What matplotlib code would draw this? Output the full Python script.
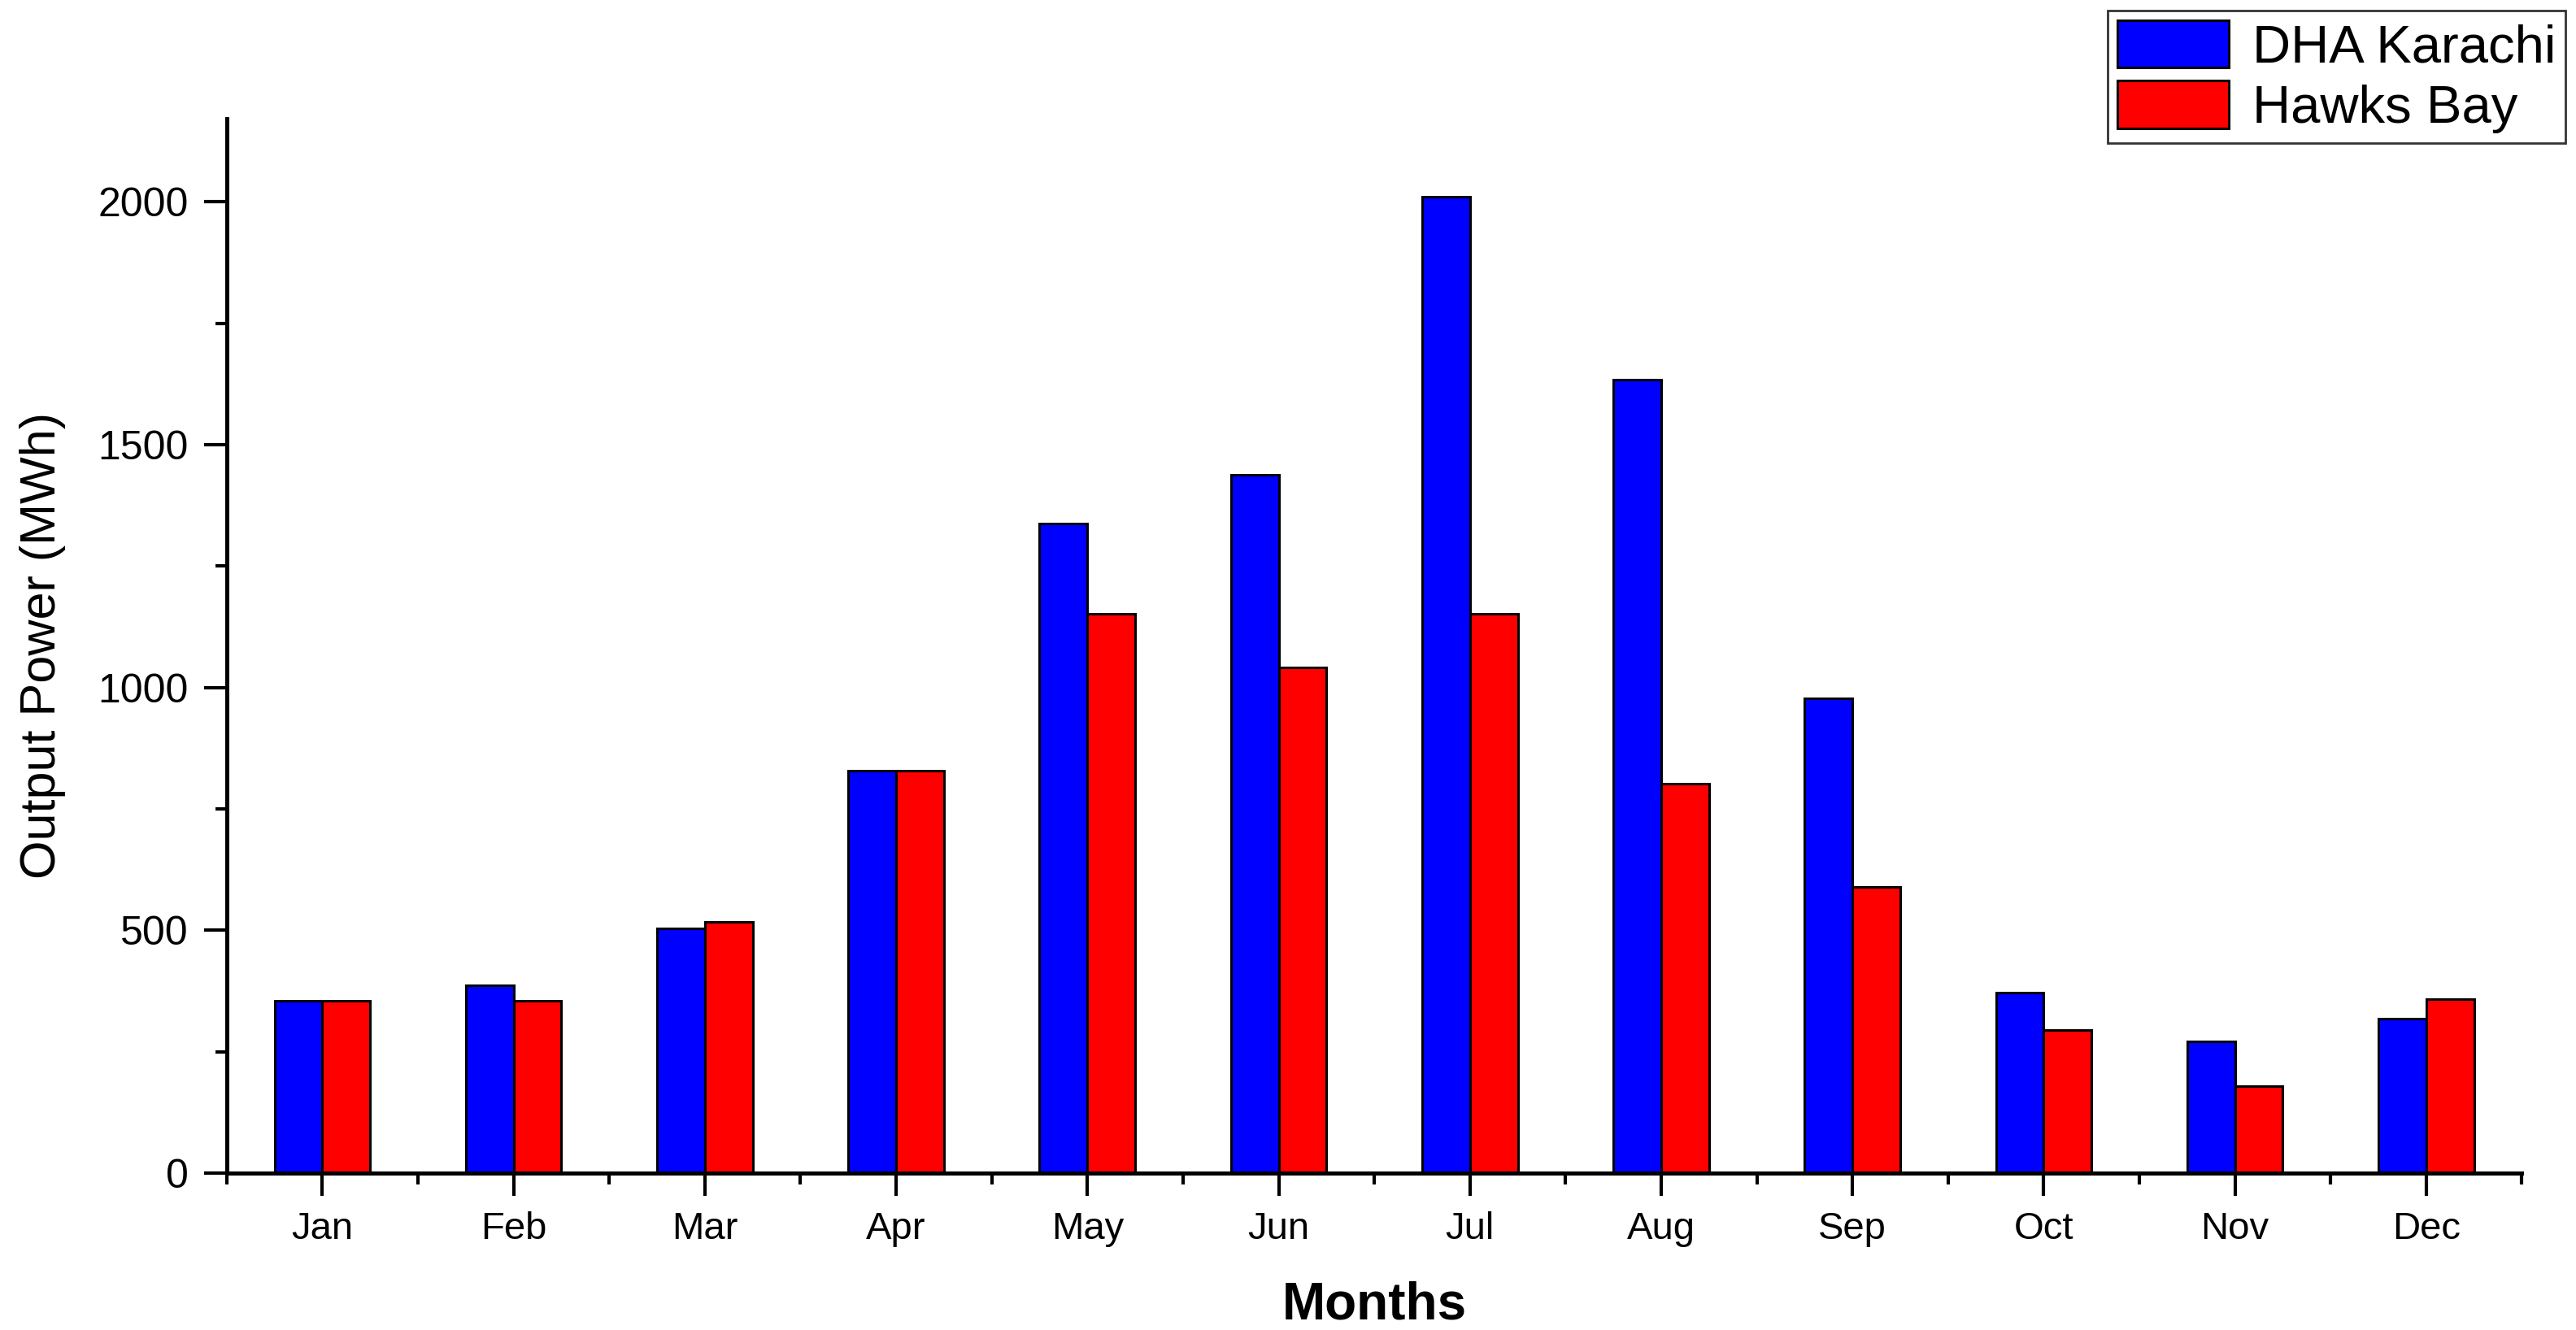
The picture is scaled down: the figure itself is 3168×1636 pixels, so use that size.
import numpy as np
import matplotlib
matplotlib.use("Agg")
import matplotlib.pyplot as plt
from matplotlib.ticker import MultipleLocator, FixedLocator

# ----------------------------
# Datos (MWh por mes)
# ----------------------------
months = ["Jan", "Feb", "Mar", "Apr", "May", "Jun",
          "Jul", "Aug", "Sep", "Oct", "Nov", "Dec"]
dha_karachi = [355, 386, 504, 829, 1337, 1438, 2010, 1634, 978, 372, 271, 318]
hawks_bay = [355, 355, 518, 829, 1151, 1042, 1151, 802, 589, 294, 179, 359]

plt.rcParams['font.family'] = ['Liberation Sans', 'DejaVu Sans']

fig = plt.figure(figsize=(15.84, 8.18), dpi=200)
ax = fig.add_axes([0.088, 0.118, 0.891, 0.793])

x = np.arange(len(months))
w = 0.25
ax.bar(x - w/2, dha_karachi, w, color='#0000ff', edgecolor='black',
       linewidth=1.1, label='DHA Karachi')
ax.bar(x + w/2, hawks_bay, w, color='#ff0000', edgecolor='black',
       linewidth=1.1, label='Hawks Bay')

ax.set_xlim(-0.5, 11.5)
ax.set_ylim(0, 2172)

# ejes estilo Origin
for s in ['top', 'right']:
    ax.spines[s].set_visible(False)
for s in ['left', 'bottom']:
    ax.spines[s].set_linewidth(1.8)

ax.set_xticks(x)
ax.set_xticklabels(months)
ax.xaxis.set_minor_locator(FixedLocator(np.arange(-0.5, 12, 1)))
ax.yaxis.set_major_locator(MultipleLocator(500))
ax.yaxis.set_minor_locator(MultipleLocator(250))
ax.tick_params(axis='both', which='major', direction='out', length=10,
               width=1.5, labelsize=17, pad=7)
ax.tick_params(axis='y', which='major', labelsize=18)
ax.tick_params(axis='both', which='minor', direction='out', length=5,
               width=1.5)

ax.set_ylabel("Output Power (MWh)", fontsize=22, labelpad=14)
ax.set_xlabel("Months", fontsize=23, fontweight='bold', labelpad=15)

leg = fig.legend(loc='upper right', bbox_to_anchor=(0.996, 0.992),
                 fontsize=23.5, frameon=True, fancybox=False, edgecolor='black',
                 handlelength=2.1, handleheight=1.0, borderpad=0.18,
                 labelspacing=0.15, handletextpad=0.45, borderaxespad=0)
leg.get_frame().set_linewidth(1.0)

fig.savefig("out.png", dpi=200, facecolor='white')
